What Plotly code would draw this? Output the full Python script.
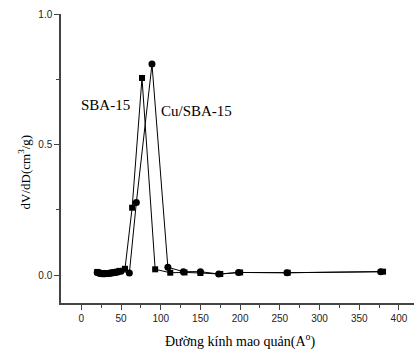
import plotly.graph_objects as go

# SBA-15 (squares)
sba_x = [20, 21.5, 23, 24.5, 26, 27.5, 29, 30.5, 32, 34, 36, 38, 40, 42.5, 45, 48, 55, 64, 76.4, 93, 112, 130, 150, 175, 200, 260, 380]
sba_y = [0.012, 0.010, 0.008, 0.007, 0.006, 0.006, 0.006, 0.006, 0.007, 0.007, 0.008, 0.009, 0.010, 0.011, 0.013, 0.016, 0.024, 0.258, 0.755, 0.022, 0.009, 0.010, 0.008, 0.004, 0.010, 0.009, 0.013]

# Cu/SBA-15 (circles)
cu_x = [20, 22, 24, 26, 28, 30, 32, 34, 36, 38, 40, 43, 46, 50, 60.5, 69.3, 89, 109, 128.5, 150, 173, 198, 259, 377]
cu_y = [0.010, 0.008, 0.006, 0.005, 0.005, 0.005, 0.006, 0.006, 0.007, 0.008, 0.009, 0.010, 0.012, 0.015, 0.008, 0.278, 0.808, 0.030, 0.013, 0.013, 0.004, 0.010, 0.009, 0.013]

x_ticks = [0, 50, 100, 150, 200, 250, 300, 350, 400]
y_ticks = [0.0, 0.5, 1.0]
y_tick_text = ["0.0", "0.5", "1.0"]

fig = go.Figure()
fig.add_trace(go.Scatter(x=sba_x, y=sba_y, mode="lines+markers",
                         line=dict(color="black", width=1),
                         marker=dict(symbol="square", size=6, color="black"),
                         name="SBA-15", showlegend=False))
fig.add_trace(go.Scatter(x=cu_x, y=cu_y, mode="lines+markers",
                         line=dict(color="black", width=1),
                         marker=dict(symbol="circle", size=7, color="black"),
                         name="Cu/SBA-15", showlegend=False))

tickfont = dict(family="Liberation Sans, Arial", size=10, color="#222")
fig.update_xaxes(range=[-25.6, 419], tickvals=x_ticks, ticks="outside", ticklen=5,
                 tickwidth=1, tickcolor="#444", showline=True, linecolor="#444", linewidth=1.5,
                 showgrid=False, zeroline=False, tickfont=tickfont, automargin=False,
                 minor=dict(tickvals=[25, 75, 125, 175, 225, 275, 325, 375], ticks="outside",
                            ticklen=3, tickcolor="#444", showgrid=False))
fig.update_yaxes(range=[-0.107, 1.0], tickvals=y_ticks, ticktext=y_tick_text, ticks="outside", ticklen=5,
                 tickwidth=1, tickcolor="#444", showline=True, linecolor="#444", linewidth=1.5,
                 showgrid=False, zeroline=False, tickfont=tickfont, automargin=False,
                 minor=dict(tickvals=[0.25, 0.75], ticks="outside", ticklen=3, tickcolor="#444", showgrid=False))

serif = dict(family="Liberation Serif, Times New Roman", size=15, color="black")
fig.add_annotation(x=31, y=0.651, text="SBA-15", showarrow=False, font=serif)
fig.add_annotation(x=144.5, y=0.63, text="Cu/SBA-15", showarrow=False, font=serif)
fig.add_annotation(xref="paper", yref="paper", x=0.508, y=-0.131, xanchor="center", yanchor="middle",
                   text="Đường kính mao quản(A<sup>o</sup>)", showarrow=False,
                   font=dict(family="Liberation Serif, Times New Roman", size=14, color="black"))
fig.add_annotation(xref="paper", yref="paper", x=-0.105, y=0.455, xanchor="center", yanchor="middle",
                   text="dV/dD(cm<sup>3</sup>/g)", textangle=-90, showarrow=False,
                   font=dict(family="Liberation Serif, Times New Roman", size=13, color="black"))

fig.update_layout(width=414, height=351, margin=dict(l=61, r=0, t=14, b=48),
                  plot_bgcolor="white", paper_bgcolor="white")
fig.write_html("out.html", config={"displayModeBar": False},
               post_script="document.body.style.margin='0';document.body.style.overflow='hidden';")
